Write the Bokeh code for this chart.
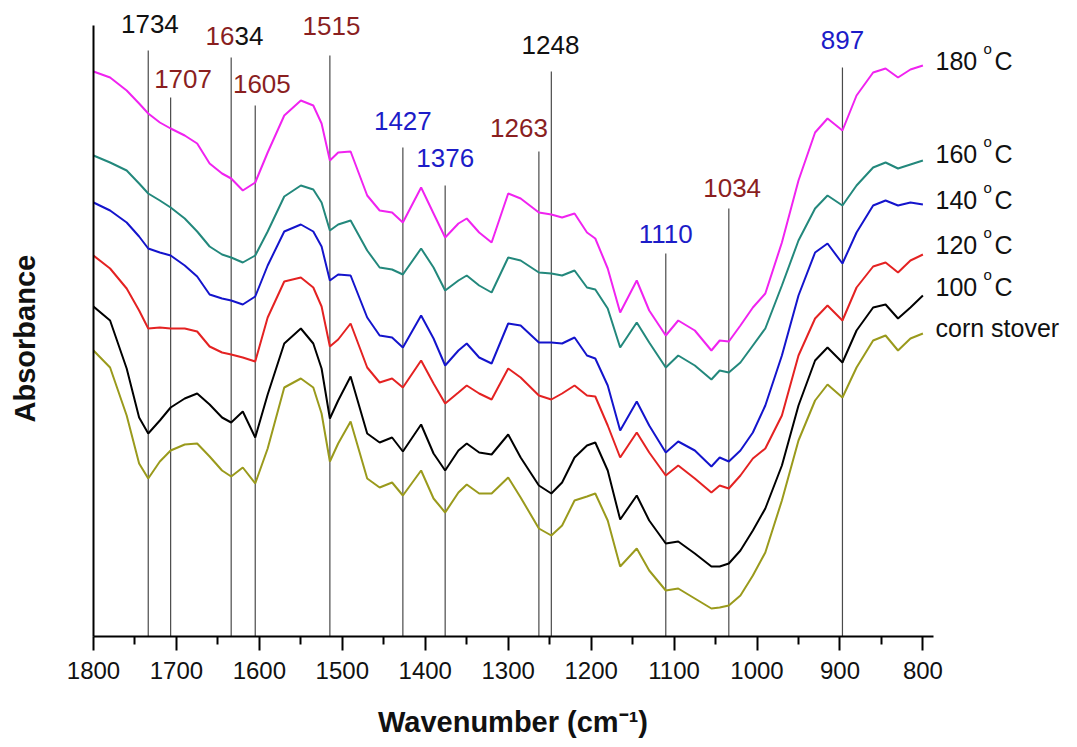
from bokeh.plotting import figure
from bokeh.models import Range1d, FixedTicker, Label
from bokeh.embed import file_html
from bokeh.resources import INLINE

# ---------------- data (absorbance, arbitrary units, stacked) ----------------
wavenumber = [1800, 1780, 1760, 1745, 1734, 1720, 1707, 1690, 1675, 1660,
              1645, 1634, 1620, 1605, 1590, 1570, 1550, 1535, 1525, 1515,
              1505, 1490, 1470, 1455, 1440, 1427, 1405, 1390, 1376, 1360,
              1350, 1335, 1320, 1300, 1285, 1263, 1248, 1235, 1220, 1205,
              1195, 1180, 1165, 1145, 1130, 1110, 1095, 1075, 1055, 1045,
              1034, 1020, 1005, 990, 970, 950, 930, 915, 897, 880,
              860, 845, 830, 815, 800]

abs_180 = [565, 559, 546, 533, 523, 514, 508, 501, 493, 473,
           463, 458, 446, 454, 484, 521, 536, 531, 513, 476,
           484, 485, 441, 426, 424, 414, 449, 423, 399, 413,
           418, 404, 394, 443, 438, 424, 422, 419, 423, 404,
           398, 368, 324, 356, 326, 301, 316, 306, 286, 296,
           295, 311, 329, 343, 394, 456, 504, 518, 506, 541,
           564, 568, 559, 567, 571]

abs_160 = [481, 474, 466, 453, 443, 436, 429, 418, 405, 390,
           382, 379, 374, 381, 405, 440, 451, 447, 434, 406,
           412, 416, 386, 369, 367, 362, 388, 369, 346, 356,
           361, 351, 344, 379, 376, 364, 363, 361, 366, 349,
           347, 328, 289, 314, 294, 269, 281, 271, 257, 266,
           264, 274, 291, 308, 351, 396, 428, 441, 431, 451,
           469, 474, 468, 472, 476]

abs_140 = [434, 426, 414, 400, 388, 384, 381, 371, 360, 342,
           338, 336, 332, 340, 371, 405, 412, 405, 390, 356,
           362, 361, 319, 301, 299, 289, 321, 298, 271, 286,
           293, 279, 273, 313, 311, 294, 294, 293, 299, 281,
           278, 251, 206, 235, 211, 184, 195, 186, 170, 179,
           175, 186, 204, 231, 281, 341, 384, 393, 373, 404,
           431, 436, 431, 434, 432]

abs_120 = [381, 368, 348, 326, 308, 309, 308, 308, 305, 290,
           284, 282, 279, 275, 319, 355, 359, 349, 330, 290,
           297, 313, 269, 254, 258, 249, 276, 253, 233, 244,
           251, 243, 237, 268, 259, 241, 237, 243, 251, 241,
           240, 211, 179, 204, 184, 161, 171, 158, 144, 151,
           148, 161, 178, 188, 221, 281, 318, 331, 316, 349,
           370, 374, 364, 376, 382]

abs_100 = [330, 316, 268, 219, 203, 216, 229, 238, 243, 232,
           219, 214, 225, 199, 242, 293, 308, 293, 268, 218,
           236, 260, 203, 194, 199, 185, 212, 183, 166, 186,
           193, 184, 182, 202, 179, 151, 143, 154, 179, 191,
           194, 166, 117, 141, 116, 93, 95, 83, 70, 70,
           73, 86, 106, 128, 171, 231, 276, 289, 274, 306,
           329, 332, 318, 329, 341]

abs_corn = [286, 269, 221, 173, 158, 175, 186, 192, 193, 180,
            166, 160, 169, 153, 188, 249, 258, 249, 223, 175,
            193, 215, 158, 149, 154, 141, 166, 138, 124, 144,
            152, 143, 143, 159, 139, 108, 101, 111, 136, 140,
            143, 116, 70, 88, 66, 46, 48, 38, 28, 29,
            31, 41, 61, 84, 136, 196, 236, 252, 239, 269,
            296, 301, 286, 298, 303]

series_values = [abs_180, abs_160, abs_140, abs_120, abs_100, abs_corn]
series_labels = ["180", "160", "140", "120", "100", "corn stover"]
series_colors = ["#f023f0", "#23887c", "#1414cc", "#e42222", "#000000", "#9a9a1c"]

peak_positions = [1734, 1707, 1634, 1605, 1515, 1427, 1376, 1263, 1248, 1110, 1034, 897]
peak_line_top = [586, 539, 579, 531, 581, 489, 451, 485, 565, 383, 428, 569]
peak_label_x = [1732, 1692, 1630, 1597, 1513, 1427, 1376, 1287, 1249, 1110, 1030, 897]
peak_label_y = [613, 558, 601, 553, 611, 516, 479, 509, 592, 403, 449, 597]
peak_kind = ["k", "r", "rk", "r", "r", "b", "b", "r", "k", "b", "r", "b"]

x_ticks = [1800, 1700, 1600, 1500, 1400, 1300, 1200, 1100, 1000, 900, 800]
x_minor = [1750, 1650, 1550, 1450, 1350, 1250, 1150, 1050, 950, 850]
x_axis_end = 787
y_axis_top = 611
x_title = "Wavenumber (cm\u207b\u00b9)"
y_title = "Absorbance"

# ---------------- layout ----------------
W, H = 1077, 747
FL, FB = 93, 636          # frame left / bottom in pixels
PX_PER_WN = 0.8294
X0 = 1800
X1 = X0 - (W - FL) / PX_PER_WN
Y0, Y1 = 0, FB
FONT = "Liberation Sans"
TXT = {"k": "#111111", "r": "#8a1f1f", "b": "#1c1cc8"}
NBSP = "\u00a0"


def px_to_wn(px):
    return X0 - (px - FL) / PX_PER_WN


def py_to_y(py):
    return FB - py


p = figure(width=W, height=H, output_backend="svg", toolbar_location=None,
           x_range=Range1d(X0, X1), y_range=Range1d(Y0, Y1),
           min_border_left=FL, min_border_right=0,
           min_border_top=0, min_border_bottom=H - FB)
p.outline_line_color = None
p.background_fill_color = "white"
p.border_fill_color = "white"
p.xgrid.visible = False
p.ygrid.visible = False

xa = p.xaxis[0]
xa.bounds = (x_axis_end, X0)
xa.ticker = FixedTicker(ticks=x_ticks, minor_ticks=x_minor)
xa.axis_line_width = 2
xa.axis_line_color = "black"
xa.major_tick_line_width = 2
xa.minor_tick_line_width = 2
xa.major_tick_in = 0
xa.major_tick_out = 14
xa.minor_tick_in = 0
xa.minor_tick_out = 8
xa.major_label_standoff = 11
xa.major_label_text_font = FONT
xa.major_label_text_font_size = "24px"
xa.major_label_text_color = "#111111"
# the frame runs to the right edge (room for the series labels); trailing
# no-break spaces move the centred title back under the drawn axis
xa.axis_label = x_title + NBSP * 18
xa.axis_label_text_font = FONT
xa.axis_label_text_font_style = "bold"
xa.axis_label_text_font_size = "29px"
xa.axis_label_text_color = "#111111"
xa.axis_label_standoff = 24

ya = p.yaxis[0]
ya.bounds = (0, y_axis_top)
ya.ticker = FixedTicker(ticks=[])
ya.axis_line_width = 2
ya.axis_line_color = "black"
ya.major_tick_out = 0
ya.major_tick_in = 0
ya.minor_tick_out = 0
ya.minor_tick_in = 0
ya.major_label_standoff = 0
ya.axis_label = y_title + NBSP * 5
ya.axis_label_text_font = FONT
ya.axis_label_text_font_style = "bold"
ya.axis_label_text_font_size = "29px"
ya.axis_label_text_color = "#111111"
ya.axis_label_standoff = 53

# vertical peak marker lines
p.segment(x0=peak_positions, y0=[Y0] * len(peak_positions), x1=peak_positions,
          y1=peak_line_top, line_color="#4a4a4a", line_width=1.2)

# spectra
for vals, col in zip(series_values, series_colors):
    p.line(wavenumber, vals, line_color=col, line_width=2)

# peak labels
for wn, lx, ly, kind in zip(peak_positions, peak_label_x, peak_label_y, peak_kind):
    txt = str(wn)
    if kind == "rk":
        p.add_layout(Label(x=lx, y=ly, text=txt[:2], text_align="right", text_baseline="middle",
                           text_font=FONT, text_font_size="26px", text_color=TXT["r"]))
        p.add_layout(Label(x=lx, y=ly, text=txt[2:], text_align="left", text_baseline="middle",
                           text_font=FONT, text_font_size="26px", text_color=TXT["k"]))
    else:
        p.add_layout(Label(x=lx, y=ly, text=txt, text_align="center", text_baseline="middle",
                           text_font=FONT, text_font_size="26px", text_color=TXT[kind]))

# series labels on the right
label_py = [60, 153, 199, 244, 286, 327]
for name, py in zip(series_labels, label_py):
    y = py_to_y(py)
    p.add_layout(Label(x=px_to_wn(935), y=y, text=name, text_align="left", text_baseline="middle",
                       text_font=FONT, text_font_size="25px", text_color="#111111"))
    if name != "corn stover":
        p.add_layout(Label(x=px_to_wn(983), y=y + 12, text="o", text_align="left",
                           text_baseline="middle", text_font=FONT, text_font_size="15px",
                           text_color="#111111"))
        p.add_layout(Label(x=px_to_wn(994), y=y, text="C", text_align="left",
                           text_baseline="middle", text_font=FONT, text_font_size="25px",
                           text_color="#111111"))

open("out.html", "w").write(file_html(p, INLINE))
